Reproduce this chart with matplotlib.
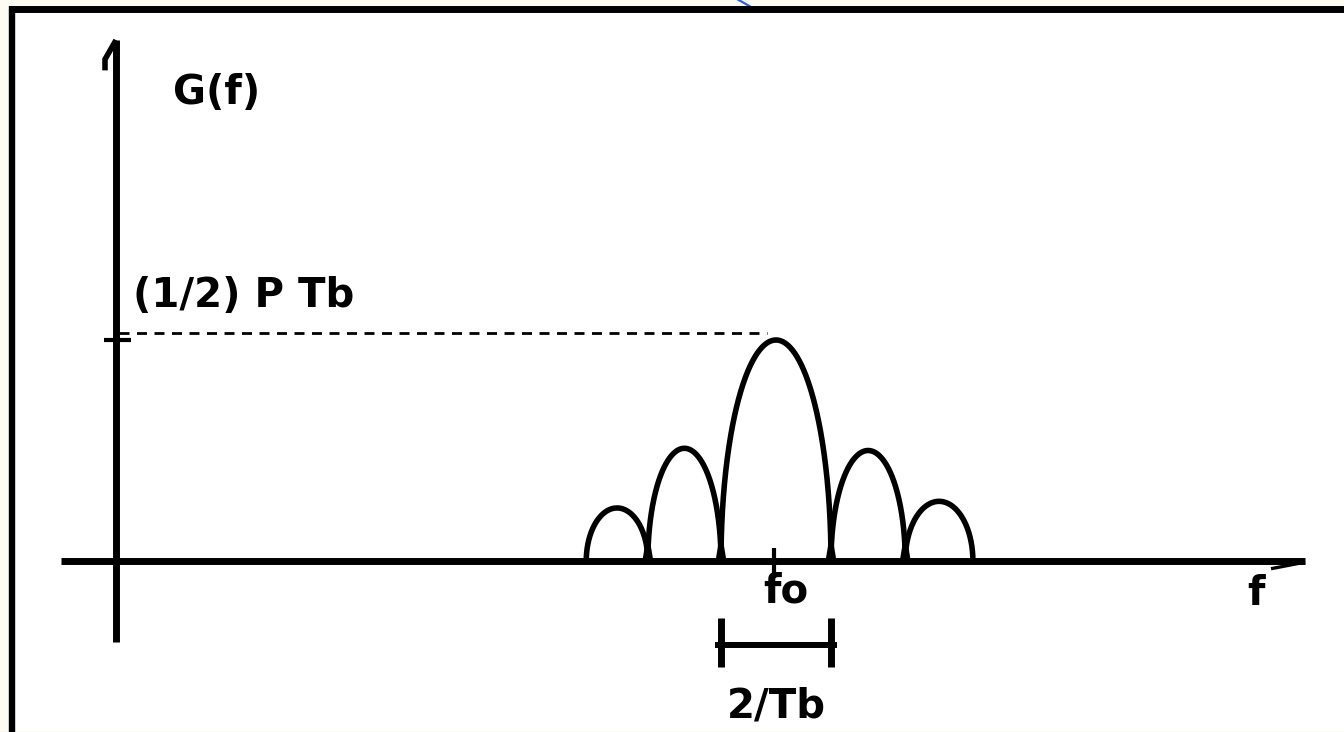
import numpy as np
import matplotlib
matplotlib.use("Agg")
import matplotlib.pyplot as plt
from matplotlib.lines import Line2D
from matplotlib.patches import Rectangle, Polygon
import matplotlib.transforms as mtransforms

# ---- spectrum data (frequency in units of 1/Tb, G(f) normalised to (1/2) P Tb) ----
f0 = 12.0
lobe_edges = [8.55, 9.67, 11.0, 13.0, 14.35, 15.58]   # nulls of the spectrum
lobe_heights = [0.24, 0.51, 1.0, 0.50, 0.27]           # peak of each lobe
peak_level = 1.0                                        # (1/2) P Tb
bandwidth = 2.0                                         # 2/Tb main-lobe width

ytick_label = "(1/2) P Tb"
xtick_label = "fo"
bw_label = "2/Tb"
ylabel = "G(f)"
xlabel = "f"

W, H = 1344, 732
PX_X, X0 = 55.0, 116.0      # pixels per 1/Tb, origin column
PX_Y, Y0 = 221.0, 561.0     # pixels per unit of G, baseline row

plt.rcParams["font.family"] = ["DejaVu Sans"]
plt.rcParams["font.weight"] = "bold"
plt.rcParams["lines.scale_dashes"] = False

fig = plt.figure(figsize=(W / 100, H / 100), dpi=100)
fig.patch.set_facecolor("#fcfcf2")
ax = fig.add_axes([0, 0, 1, 1])
ax.set_axis_off()
ax.set_xlim(-X0 / PX_X, (W - X0) / PX_X)
ax.set_ylim(-(H - Y0) / PX_Y, Y0 / PX_Y)


def frac(x, y):
    """Pixel position (from top-left) to axes fraction."""
    return x / W, 1 - y / H


# page background and frame
ax.add_patch(Rectangle(frac(9, 731), (W - 9) / W, (731 - 6) / H,
                       transform=ax.transAxes, facecolor="white",
                       edgecolor="none", zorder=0))
ax.add_line(Line2D([0, 1], [frac(0, 731.5)[1]] * 2, transform=ax.transAxes,
                   color="#d4d4d4", lw=0.8, zorder=1))
ax.add_line(Line2D([frac(737, -1)[0], frac(758, 11)[0]],
                   [frac(737, -1)[1], frac(758, 11)[1]],
                   transform=ax.transAxes, color="#2a62e0", lw=1.6, zorder=1))
ax.add_line(Line2D([frac(9, 9)[0], 1], [frac(9, 9)[1]] * 2,
                   transform=ax.transAxes, color="black", lw=5.0,
                   solid_capstyle="butt", zorder=2))
ax.add_line(Line2D([frac(12, 6)[0]] * 2, [frac(12, 6)[1], 0],
                   transform=ax.transAxes, color="black", lw=4.6,
                   solid_capstyle="butt", zorder=2))

# axes lines
ax.plot([0, 0], [-0.367, 2.357], color="black", lw=5.0, solid_capstyle="butt")
ax.plot([0, -0.2, -0.2], [2.357, 2.27, 2.22], color="black", lw=4.0,
        solid_capstyle="butt", solid_joinstyle="miter")
ax.plot([-1.0, 21.62], [0, 0], color="black", lw=5.0, solid_capstyle="butt")
ax.plot([21.62, 21.0], [-0.005, -0.035], color="black", lw=2.4,
        solid_capstyle="butt")

# y tick and dashed reference level
ax.plot([-0.22, 0.27], [peak_level, peak_level], color="black", lw=3.0,
        solid_capstyle="butt")
lift = mtransforms.offset_copy(ax.transData, fig=fig, x=0, y=7, units="dots")
ax.plot([0.05, f0 - 0.16], [peak_level, peak_level], color="black", lw=2.0,
        dashes=(7.2, 5.4), transform=lift)

# spectral lobes (half-ellipse arches between consecutive nulls)
theta = np.linspace(0, np.pi, 300)
for left, right, h in zip(lobe_edges[:-1], lobe_edges[1:], lobe_heights):
    c, w = (left + right) / 2, (right - left) / 2
    ax.plot(c + w * np.cos(theta), h * np.sin(theta), color="black", lw=4.0,
            solid_capstyle="butt")
for e in lobe_edges[1:-1]:
    ax.add_patch(Polygon([[e - 0.1, 0], [e + 0.1, 0], [e, 0.15]],
                         closed=True, facecolor="black", edgecolor="none"))

# f0 tick
ax.plot([f0 - 0.04, f0 - 0.04], [0.06, -0.077], color="black", lw=3.0,
        solid_capstyle="butt")

# main-lobe width bracket
y_br = -0.38
ax.plot([f0 - bandwidth / 2 - 0.11, f0 + bandwidth / 2 + 0.11], [y_br, y_br],
        color="black", lw=4.3, solid_capstyle="butt")
for xe in (f0 - bandwidth / 2, f0 + bandwidth / 2):
    ax.plot([xe, xe], [-0.258, -0.48], color="black", lw=5.0,
            solid_capstyle="butt")

# labels
fs = 29
ax.text(1.04, 2.07, ylabel, fontsize=fs, ha="left", va="baseline")
ax.text(0.31, 1.15, ytick_label, fontsize=fs, ha="left", va="baseline")
ax.text(f0 + 0.18, -0.19, xtick_label, fontsize=fs, ha="center", va="baseline")
ax.text(20.56, -0.2, xlabel, fontsize=fs, ha="left", va="baseline")
ax.text(f0, -0.706, bw_label, fontsize=fs, ha="center", va="baseline")

fig.savefig("out.png", dpi=100, facecolor=fig.get_facecolor())
